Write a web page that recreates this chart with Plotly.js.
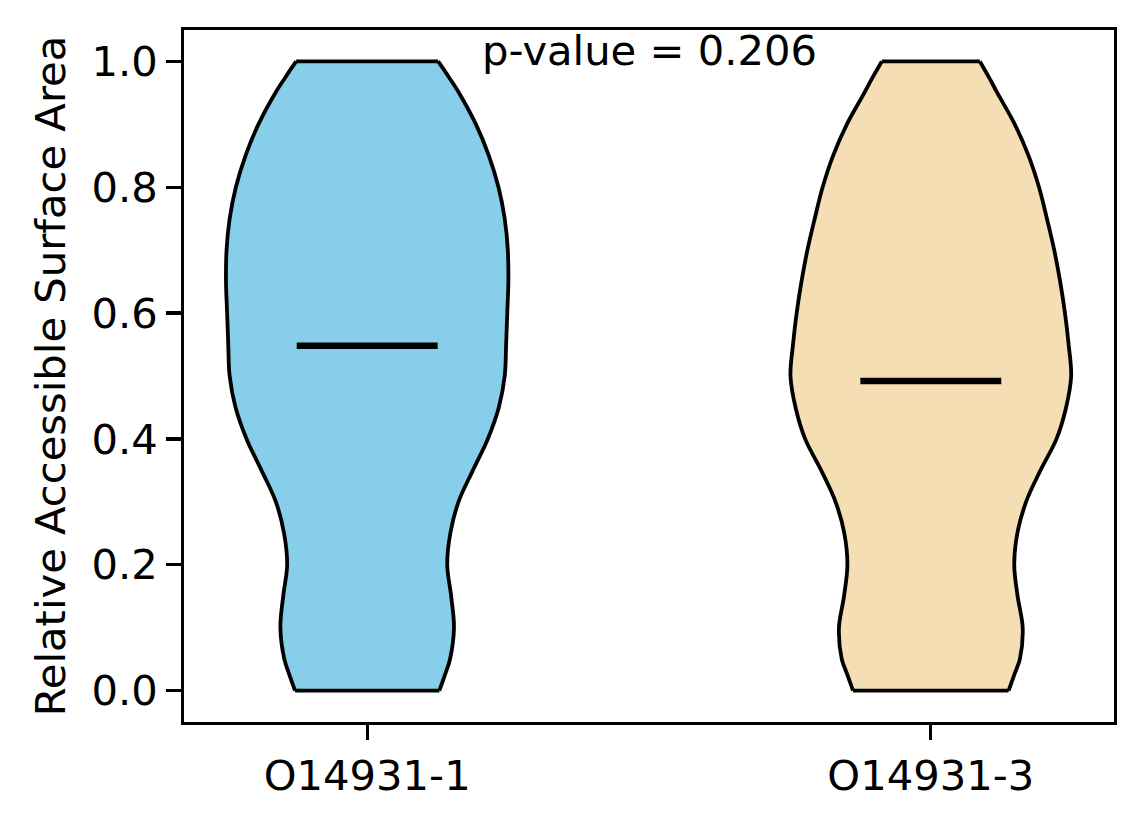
<!DOCTYPE html>
<html>
<head>
<meta charset="utf-8">
<script src="https://cdn.plot.ly/plotly-3.0.1.min.js"></script>
<style>
  html, body { margin: 0; padding: 0; background: #ffffff; }
  #chart { width: 1144px; height: 824px; }
</style>
</head>
<body>
<div id="chart"></div>
<script>
// ---- data ----
const categories = ['O14931-1', 'O14931-3'];
const fillColors = ['#87CEEB', '#F5DEB3'];
// y levels of the violin outlines (Relative Accessible Surface Area)
const yLevels = [0, 0.025, 0.05, 0.1, 0.15, 0.2, 0.25, 0.3, 0.35, 0.4, 0.45, 0.5,
                 0.55, 0.6, 0.65, 0.7, 0.75, 0.8, 0.85, 0.9, 0.95, 0.975, 1.0];
// half widths of each violin (x-axis units) at yLevels
const halfWidth1 = [0.128, 0.138, 0.147, 0.154, 0.149, 0.142, 0.1475, 0.162, 0.1875, 0.214, 0.2335, 0.244,
                    0.2465, 0.2485, 0.2505, 0.2495, 0.244, 0.233, 0.216, 0.193, 0.163, 0.145, 0.126];
const halfWidth3 = [0.138, 0.148, 0.158, 0.163, 0.154, 0.148, 0.1535, 0.169, 0.1945, 0.223, 0.240, 0.249,
                    0.2445, 0.238, 0.2295, 0.219, 0.206, 0.192, 0.1735, 0.149, 0.118, 0.103, 0.087];
const halfWidths = [halfWidth1, halfWidth3];
const medians = [0.548, 0.492];
const medianHalfLen = 0.125;
const pValueText = 'p-value = 0.206';

// ---- build traces ----
const FONT = 'DejaVu Sans, Liberation Sans, sans-serif';
const FS = 41.7;
const EDGE = 3.8;
const sideTraces = [];
const extraTraces = [];
categories.forEach((cat, i) => {
  const pos = i + 1;
  const hw = halfWidths[i];
  const n = yLevels.length;
  // right side of the violin (outline only)
  sideTraces.push({
    type: 'scatter', mode: 'lines',
    x: hw.map(w => pos + w), y: yLevels,
    line: {color: '#000000', width: EDGE, shape: 'spline', smoothing: 1},
    hoverinfo: 'skip', showlegend: false, name: cat + ' right'
  });
  // left side, filled across to the right side
  sideTraces.push({
    type: 'scatter', mode: 'lines',
    x: hw.map(w => pos - w), y: yLevels,
    fill: 'tonextx', fillcolor: fillColors[i],
    line: {color: '#000000', width: EDGE, shape: 'spline', smoothing: 1},
    hoverinfo: 'skip', showlegend: false, name: cat
  });
  // flat bottom and top edges
  extraTraces.push({
    type: 'scatter', mode: 'lines',
    x: [pos - hw[0], pos + hw[0], null, pos - hw[n - 1], pos + hw[n - 1]],
    y: [yLevels[0], yLevels[0], null, yLevels[n - 1], yLevels[n - 1]],
    line: {color: '#000000', width: EDGE},
    hoverinfo: 'skip', showlegend: false, name: cat + ' ends'
  });
  // median line
  extraTraces.push({
    type: 'scatter', mode: 'lines',
    x: [pos - medianHalfLen, pos + medianHalfLen], y: [medians[i], medians[i]],
    line: {color: '#000000', width: 6.5},
    hoverinfo: 'skip', showlegend: false, name: cat + ' median'
  });
});
const traces = sideTraces.concat(extraTraces);

const layout = {
  width: 1144, height: 824,
  margin: {l: 184, r: 30, t: 30, b: 102, pad: 0},
  paper_bgcolor: '#ffffff', plot_bgcolor: '#ffffff',
  font: {family: FONT, size: FS, color: '#000000'},
  showlegend: false,
  xaxis: {
    range: [0.675, 2.325],
    tickmode: 'array', tickvals: categories.map((c, i) => i + 1), ticktext: categories,
    ticks: 'outside', ticklen: 14.6, tickwidth: 3.3, tickcolor: '#000000',
    showline: true, linecolor: '#000000', linewidth: 3.3, mirror: true,
    showgrid: false, zeroline: false,
    tickfont: {family: FONT, size: FS, color: '#000000'}
  },
  yaxis: {
    range: [-0.05, 1.05],
    tickmode: 'array', tickvals: [0, 0.2, 0.4, 0.6, 0.8, 1.0],
    ticktext: ['0.0', '0.2', '0.4', '0.6', '0.8', '1.0'],
    ticks: 'outside', ticklen: 14.6, tickwidth: 3.3, tickcolor: '#000000',
    showline: true, linecolor: '#000000', linewidth: 3.3, mirror: true,
    showgrid: false, zeroline: false,
    tickfont: {family: FONT, size: FS, color: '#000000'},
    title: {text: 'Relative Accessible Surface Area', font: {family: FONT, size: FS, color: '#000000'}, standoff: 14}
  },
  annotations: [{
    x: 1.5, y: 1.0, xref: 'x', yref: 'y',
    text: pValueText, showarrow: false,
    xanchor: 'center', yanchor: 'bottom', yshift: -16,
    font: {family: FONT, size: FS, color: '#000000'}
  }]
};

Plotly.newPlot('chart', traces, layout, {displayModeBar: false, staticPlot: true});
</script>
</body>
</html>
